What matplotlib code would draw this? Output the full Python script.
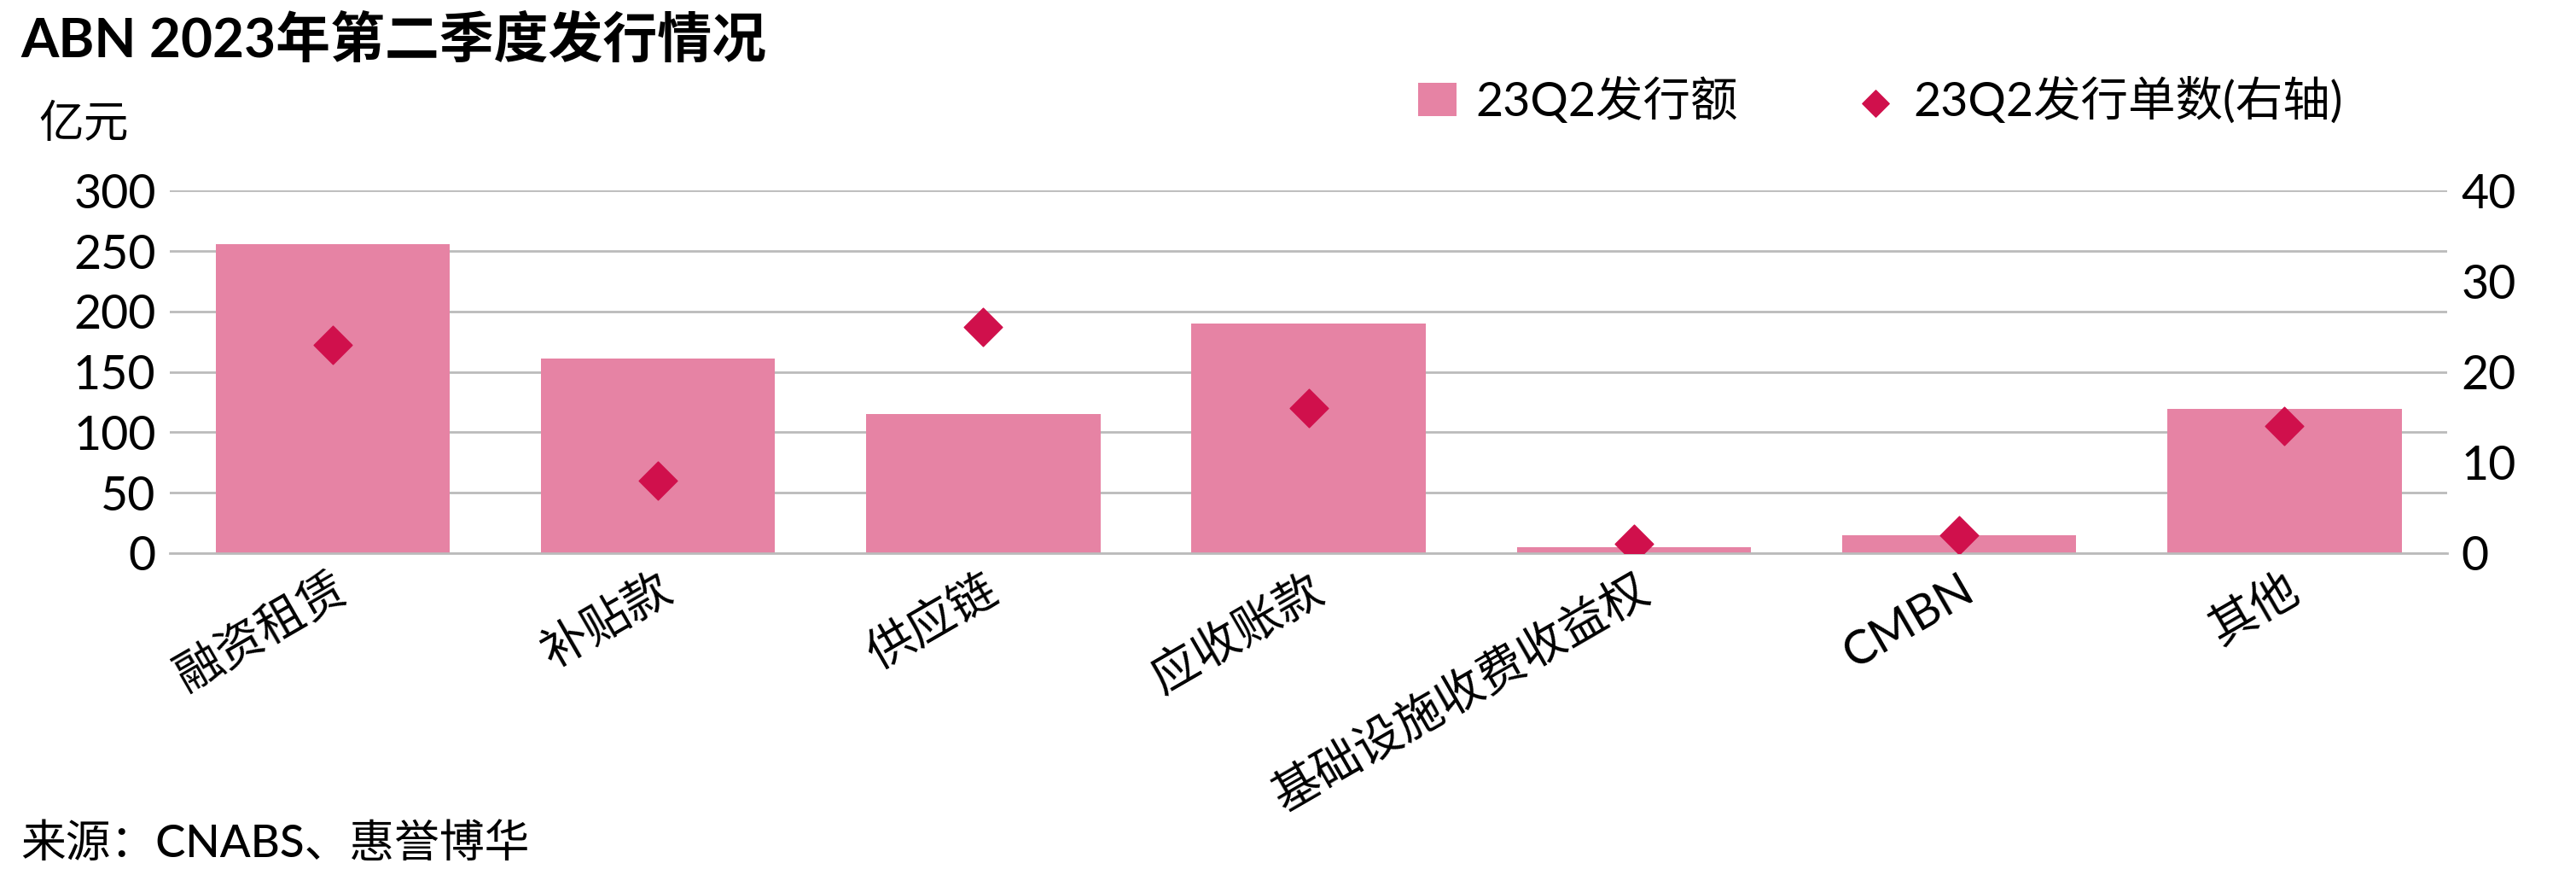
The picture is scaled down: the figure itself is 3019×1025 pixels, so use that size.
import matplotlib
matplotlib.use("Agg")
import matplotlib.pyplot as plt

plt.rcParams['font.family'] = ['Lato', 'Noto Sans CJK SC', 'DejaVu Sans']

categories = ["融资租赁", "补贴款", "供应链", "应收账款", "基础设施收费收益权", "CMBN", "其他"]
amounts = [256, 161, 115, 190, 5, 15, 119]
counts = [23, 8, 25, 16, 1, 2, 14]

fig = plt.figure(figsize=(30.19, 10.25), dpi=100)
ax = fig.add_axes([0.066, 0.368, 0.884, 0.414])
ax2 = ax.twinx()
x = range(len(categories))
ax.bar(x, amounts, width=0.72, color="#E683A4", label="23Q2发行额", zorder=2)
ax2.scatter(x, counts, marker="D", s=520, color="#D0104C", label="23Q2发行单数(右轴)", zorder=3)
ax.set_ylim(0, 300)
ax2.set_ylim(0, 40)
ax.set_yticks(range(0, 301, 50))
ax2.set_yticks(range(0, 41, 10))
ax.set_xlim(-0.5, len(categories) - 0.5)
ax.grid(axis="y", color="#BBBBBB", linewidth=2, zorder=0)
for a in (ax, ax2):
    for s in a.spines.values():
        s.set_visible(False)
    a.tick_params(length=0, labelsize=40, pad=12)
ax.spines['bottom'].set_visible(True)
ax.spines['bottom'].set_color("#BBBBBB")
ax.spines['bottom'].set_linewidth(2)
ax.set_xticks(list(x))
ax.set_xticklabels(categories, rotation=30, ha="right", rotation_mode="anchor", fontsize=40)

fig.text(0.008, 0.955, "ABN 2023年第二季度发行情况", fontsize=46, fontweight="bold", va="center")
fig.text(0.015, 0.858, "亿元", fontsize=38, va="center")
fig.text(0.008, 0.035, "来源：CNABS、惠誉博华", fontsize=38, va="center", fontweight="medium")

h1, l1 = ax.get_legend_handles_labels()
h2, l2 = ax2.get_legend_handles_labels()
fig.legend(h1 + h2, l1 + l2, loc="center", bbox_to_anchor=(0.73, 0.885), ncol=2, frameon=False,
           fontsize=40, handlelength=0.8, handletextpad=0.4, columnspacing=2.5, markerscale=0.7)

fig.savefig("out.png", dpi=100)
